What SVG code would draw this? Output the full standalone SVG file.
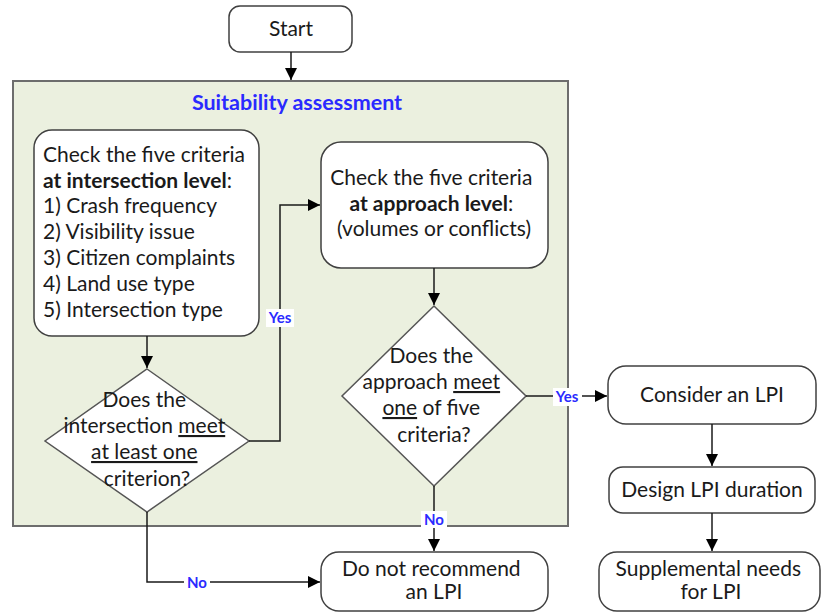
<svg xmlns="http://www.w3.org/2000/svg" width="822" height="613" viewBox="0 0 822 613">
<defs>
<marker id="ah" markerWidth="12" markerHeight="12" viewBox="0 0 12 12" refX="12" refY="6" orient="auto" markerUnits="userSpaceOnUse">
<path d="M0,0 L12,6 L0,12 Z" fill="#000"/>
</marker>
<style>
.box{fill:#fff;stroke:#404040;stroke-width:1.5}
.dia{fill:#fff;stroke:#555;stroke-width:1.5}
.t{font-family:Lato,"Liberation Sans",sans-serif;font-size:21px;fill:#1a1a1a}
.c{text-anchor:middle}
.b{font-weight:bold}
.u{text-decoration:underline}
.con{fill:none;stroke:#1a1a1a;stroke-width:1.5}
.lbl{font-family:Lato,"Liberation Sans",sans-serif;font-size:15px;font-weight:bold;fill:#2a2aff;text-anchor:middle}
.lblbg{fill:#fff}
</style>
</defs>
<rect width="822" height="613" fill="#fff"/>

<g id="container">
<rect x="13" y="81" width="555" height="445" fill="#ebf0df" stroke="#6d6d6d" stroke-width="2"/>
<text x="297" y="110" class="c" style="font-family:Lato,'Liberation Sans',sans-serif;font-size:21.5px;font-weight:bold;fill:#2a2aff">Suitability assessment</text>
</g>

<g id="start">
<rect x="229" y="6" width="123" height="46" rx="11" class="box"/>
<text x="291" y="36" class="t c">Start</text>
</g>

<g id="check-intersection">
<rect x="34" y="130" width="225" height="206" rx="18" class="box"/>
<text class="t">
<tspan x="43" y="162">Check the five criteria</tspan>
<tspan x="43" y="188"><tspan class="b">at intersection level</tspan>:</tspan>
<tspan x="43" y="213">1) Crash frequency</tspan>
<tspan x="43" y="239">2) Visibility issue</tspan>
<tspan x="43" y="265">3) Citizen complaints</tspan>
<tspan x="43" y="291">4) Land use type</tspan>
<tspan x="43" y="317">5) Intersection type</tspan>
</text>
</g>

<g id="check-approach">
<rect x="321" y="142" width="227" height="126" rx="20" class="box"/>
<text class="t c">
<tspan x="434" y="185">Check the five criteria</tspan>
<tspan x="434" y="211"><tspan class="b">at approach level</tspan>:</tspan>
<tspan x="434" y="236">(volumes or conflicts)</tspan>
</text>
</g>

<g id="decision-intersection">
<polygon points="147,369 249,441 147,512 45,441" class="dia"/>
<text class="t c">
<tspan x="147" y="407">Does the</tspan>
<tspan x="147" y="433">intersection <tspan class="u">meet</tspan></tspan>
<tspan x="147" y="459" class="u">at least one</tspan>
<tspan x="147" y="486">criterion?</tspan>
</text>
</g>

<g id="decision-approach">
<polygon points="434,306 526,396 434,486 342,396" class="dia"/>
<text class="t c">
<tspan x="434" y="363">Does the</tspan>
<tspan x="434" y="389">approach <tspan class="u">meet</tspan></tspan>
<tspan x="434" y="415"><tspan class="u">one</tspan> of five</tspan>
<tspan x="434" y="442">criteria?</tspan>
</text>
</g>

<g id="do-not-recommend">
<rect x="321" y="552" width="227" height="59" rx="18" class="box"/>
<text class="t c">
<tspan x="434" y="576">Do not recommend</tspan>
<tspan x="434" y="599">an LPI</tspan>
</text>
</g>

<g id="consider-lpi">
<rect x="608" y="366" width="208" height="58" rx="18" class="box"/>
<text x="712" y="402" class="t c">Consider an LPI</text>
</g>

<g id="design-duration">
<rect x="609" y="467" width="206" height="46" rx="14" class="box"/>
<text x="712" y="497" class="t c">Design LPI duration</text>
</g>

<g id="supplemental">
<rect x="599" y="552" width="221" height="59" rx="18" class="box"/>
<text class="t c">
<tspan x="711" y="576">Supplemental needs</tspan>
<tspan x="711" y="599">for LPI</tspan>
</text>
</g>

<g id="connectors">
<path d="M291,52 V80" class="con" marker-end="url(#ah)"/>
<path d="M147,336 V368" class="con" marker-end="url(#ah)"/>
<path d="M249,441 H280 V205 H320" class="con" marker-end="url(#ah)"/>
<path d="M434,268 V305" class="con" marker-end="url(#ah)"/>
<path d="M147,512 V582 H320" class="con" marker-end="url(#ah)"/>
<path d="M434,486 V551" class="con" marker-end="url(#ah)"/>
<path d="M526,396 H607" class="con" marker-end="url(#ah)"/>
<path d="M712,424 V466" class="con" marker-end="url(#ah)"/>
<path d="M712,513 V551" class="con" marker-end="url(#ah)"/>
<rect x="266" y="309" width="28" height="18" class="lblbg"/>
<text x="280" y="323" class="lbl">Yes</text>
<rect x="184" y="574" width="26" height="17" class="lblbg"/>
<text x="197" y="588" class="lbl">No</text>
<rect x="421" y="511" width="26" height="17" class="lblbg"/>
<text x="434" y="525" class="lbl">No</text>
<rect x="553" y="388" width="29" height="18" class="lblbg"/>
<text x="567" y="402" class="lbl">Yes</text>
</g>
</svg>
